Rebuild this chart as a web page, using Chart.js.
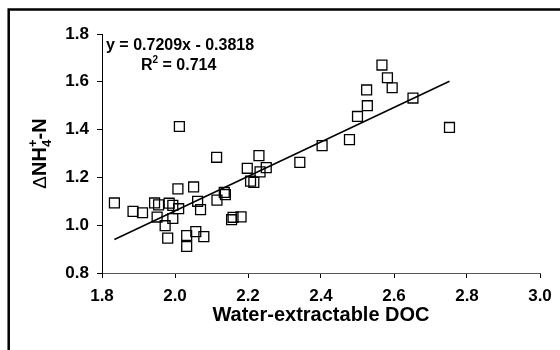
<!DOCTYPE html>
<html>
<head>
<meta charset="utf-8">
<script src="https://cdn.jsdelivr.net/npm/chart.js@4/dist/chart.umd.min.js"></script>
<style>
  body { margin: 0; background: #fff; }
  #wrap { width: 560px; height: 350px; }
</style>
</head>
<body>
<div id="wrap"><canvas id="chart" width="560" height="350"></canvas></div>
<script>
// water-extractable DOC (x) vs delta NH4+-N (y)
const docValues = [
  1.834, 1.885, 1.911, 1.944, 1.955, 1.984, 1.994, 2.010, 2.008, 2.012,
  1.951, 1.994, 1.973, 1.980, 2.051, 2.062, 2.070, 2.032, 2.057, 2.079,
  2.032, 2.114, 2.115, 2.135, 2.138, 2.155, 2.159, 2.181, 2.198, 2.207,
  2.216, 2.230, 2.233, 2.250, 2.342, 2.403, 2.478, 2.500, 2.525, 2.527,
  2.567, 2.582, 2.595, 2.652, 2.752
];
const nh4Values = [
  1.093, 1.058, 1.052, 1.093, 1.085, 1.092, 1.083, 1.069, 1.152, 1.413,
  1.034, 1.028, 0.998, 0.946, 1.160, 1.100, 1.065, 0.957, 0.973, 0.952,
  0.911, 1.284, 1.105, 1.137, 1.128, 1.023, 1.033, 1.035, 1.238, 1.184,
  1.179, 1.291, 1.223, 1.241, 1.263, 1.333, 1.358, 1.455, 1.566, 1.500,
  1.670, 1.617, 1.575, 1.532, 1.409
];
const xTicks = [1.8, 2.0, 2.2, 2.4, 2.6, 2.8, 3.0];
const yTicks = [0.8, 1.0, 1.2, 1.4, 1.6, 1.8];

// fitted line as printed on the chart
const slope = 0.7209;
const intercept = -0.3818;
const r2 = 0.714;

const points = docValues.map((x, i) => ({ x: x, y: nh4Values[i] }));
const xMin = Math.min(...docValues);
const xMax = Math.max(...docValues);
const trend = [
  { x: xMin, y: slope * xMin + intercept },
  { x: xMax, y: slope * xMax + intercept },
];

const FONT = "'Liberation Sans', Arial, sans-serif";

const extras = {
  id: "extras",
  afterDraw(chart) {
    const ctx = chart.ctx;
    const area = chart.chartArea;
    ctx.save();

    // outer frame (only top and left show)
    ctx.strokeStyle = "#000";
    ctx.lineWidth = 2.5;
    ctx.beginPath();
    ctx.moveTo(8.7, 350);
    ctx.lineTo(8.7, 9.5);
    ctx.lineTo(560, 9.5);
    ctx.stroke();

    ctx.fillStyle = "#000";

    // x title
    ctx.font = "bold 20px " + FONT;
    ctx.textAlign = "center";
    ctx.textBaseline = "middle";
    ctx.fillText("Water-extractable DOC", (area.left + area.right) / 2, 315);

    // y title: ΔNH4+-N, rotated
    ctx.translate(39, (area.top + area.bottom) / 2);
    ctx.rotate(-Math.PI / 2);
    const big = "bold 20px " + FONT;
    const small = "bold 13px " + FONT;
    const delta = "19px " + FONT;
    ctx.textAlign = "left";
    ctx.textBaseline = "alphabetic";
    ctx.font = delta; const wD = ctx.measureText("\u0394").width;
    ctx.font = big; const wNH = ctx.measureText("NH").width;
    ctx.font = small; const w4 = ctx.measureText("4").width;
    const wP = ctx.measureText("+").width;
    ctx.font = big; const wN = ctx.measureText("-N").width;
    const total = wD + wNH + Math.max(w4, wP) + wN;
    let cx = -total / 2;
    const base = 7;
    ctx.font = delta; ctx.fillText("\u0394", cx, base); cx += wD;
    ctx.font = big; ctx.fillText("NH", cx, base); cx += wNH;
    ctx.font = small;
    ctx.fillText("4", cx, base + 5);
    ctx.fillText("+", cx, base - 9);
    cx += Math.max(w4, wP);
    ctx.font = big; ctx.fillText("-N", cx, base);
    ctx.setTransform(1, 0, 0, 1, 0, 0);

    // regression equation
    ctx.font = "bold 16px " + FONT;
    ctx.textBaseline = "middle";
    ctx.textAlign = "left";
    ctx.fillText("y = " + slope.toFixed(4) + "x - " + Math.abs(intercept).toFixed(4), 106, 46);
    ctx.fillText("R", 141, 66);
    const wR = ctx.measureText("R").width;
    ctx.font = "bold 10px " + FONT;
    ctx.fillText("2", 141 + wR, 60);
    const w2 = ctx.measureText("2").width;
    ctx.font = "bold 16px " + FONT;
    ctx.fillText(" = " + r2.toFixed(3), 141 + wR + w2, 66);

    ctx.restore();
  },
};

new Chart(document.getElementById("chart"), {
  type: "scatter",
  data: {
    datasets: [
      {
        data: points,
        pointStyle: "rect",
        pointRadius: 7,
        pointHoverRadius: 7,
        borderWidth: 1.3,
        borderColor: "#000",
        backgroundColor: "rgba(0,0,0,0)",
      },
      {
        type: "line",
        data: trend,
        borderColor: "#000",
        borderWidth: 1.5,
        pointRadius: 0,
        fill: false,
      },
    ],
  },
  options: {
    responsive: false,
    animation: false,
    layout: { padding: { left: 0, top: 34, right: 20, bottom: 0 } },
    plugins: { legend: { display: false }, tooltip: { enabled: false } },
    scales: {
      x: {
        type: "linear",
        min: 1.8,
        max: 3.0,
        afterBuildTicks: (scale) => { scale.ticks = xTicks.map((v) => ({ value: v })); },
        afterFit: (scale) => { scale.height = 77; },
        border: { display: true, color: "#555", width: 1 },
        grid: { drawOnChartArea: false, drawTicks: true, tickLength: 5, tickColor: "#000" },
        ticks: {
          color: "#000",
          font: { family: FONT, size: 17, weight: "bold" },
          padding: 8,
          maxRotation: 0,
          callback: (v) => Number(v).toFixed(1),
        },
      },
      y: {
        type: "linear",
        min: 0.8,
        max: 1.8,
        afterBuildTicks: (scale) => { scale.ticks = yTicks.map((v) => ({ value: v })); },
        afterFit: (scale) => { scale.width = 102; },
        border: { display: true, color: "#000", width: 1 },
        grid: { drawOnChartArea: false, drawTicks: true, tickLength: 5, tickColor: "#000" },
        ticks: {
          color: "#000",
          font: { family: FONT, size: 17, weight: "bold" },
          padding: 8,
          callback: (v) => Number(v).toFixed(1),
        },
      },
    },
  },
  plugins: [extras],
});
</script>
</body>
</html>
